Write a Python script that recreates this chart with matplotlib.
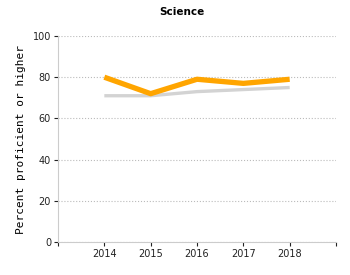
import matplotlib.pyplot as plt

# Данные графика
years = [2014, 2015, 2016, 2017, 2018]
school = [80, 72, 79, 77, 79]
state = [71, 71, 73, 74, 75]
y_ticks = [0, 20, 40, 60, 80, 100]

fig = plt.figure(figsize=(3.5, 2.75), dpi=100)
ax = fig.add_axes([58/350, 1 - 242/275, (336-58)/350, (242-36)/275])

ax.plot(years, state, color='#d3d3d3', lw=2.4, solid_capstyle='butt', zorder=3)
ax.plot(years, school, color='#ffa500', lw=3.8, solid_capstyle='butt', zorder=4)

ax.set_xlim(2013, 2019)
ax.set_ylim(0, 100)
ax.set_xticks([2013] + years + [2019])
ax.set_xticklabels([''] + [str(y) for y in years] + [''])
ax.set_yticks(y_ticks)
ax.yaxis.grid(True, linestyle=':', color='#bbbbbb', lw=0.8)
ax.set_axisbelow(True)

for s in ['top', 'right']:
    ax.spines[s].set_visible(False)
for s in ['left', 'bottom']:
    ax.spines[s].set_color('#cccccc')
ax.tick_params(length=3, width=0.8, colors='#222222', labelsize=7, pad=2)

ax.set_ylabel('Percent proficient or higher', family='DejaVu Sans Mono', fontsize=8, labelpad=5)
fig.text(182/350, 1 - 12/275, 'Science', ha='center', va='center', fontsize=7.5, fontweight='bold')

fig.savefig('out.png', dpi=100)
